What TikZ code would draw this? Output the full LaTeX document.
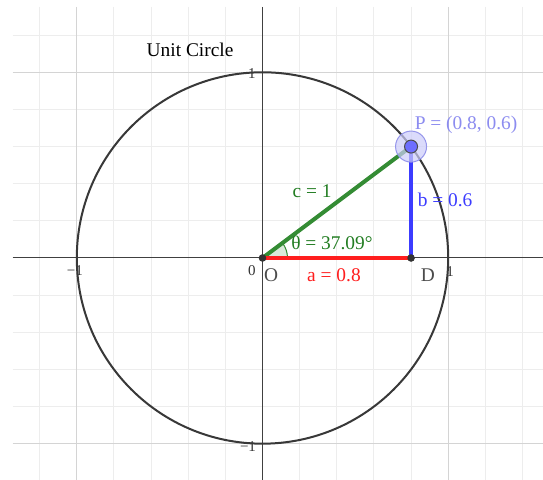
\documentclass[tikz,border=0pt]{standalone}
\usepackage{fontspec}
\setmainfont{Liberation Serif}
\definecolor{segg}{RGB}{52,140,52}
\definecolor{textg}{RGB}{34,125,34}
\definecolor{segr}{RGB}{255,30,30}
\definecolor{segb}{RGB}{60,60,255}
\definecolor{plab}{RGB}{140,140,240}
\definecolor{pfill}{RGB}{110,110,255}
\definecolor{halo}{RGB}{205,205,250}
\definecolor{halodraw}{RGB}{150,150,235}
\begin{document}
\begin{tikzpicture}[x=92.85pt,y=92.85pt,
  minorgrid/.style={draw=black!7, line width=0.5pt},
  majorgrid/.style={draw=black!17, line width=0.6pt},
  axisline/.style={draw=black!75, line width=0.5pt},
  circline/.style={draw=black!78, line width=1pt},
  ticklab/.style={font=\fontsize{7.5}{8}\selectfont, text=black!80, inner sep=0pt},
  lab/.style={font=\fontsize{9.7}{11}\selectfont, inner sep=0pt},
  dot/.style={circle, fill=black!80, inner sep=0pt, minimum size=3.8pt},
  pdot/.style={circle, fill=pfill, draw=black!70, line width=0.5pt, inner sep=0pt, minimum size=6.5pt},
  phalo/.style={circle, fill=halo, fill opacity=0.7, draw=halodraw, line width=0.5pt, inner sep=0pt, minimum size=15.5pt},
]
\useasboundingbox (-1.4136,-1.1955) rectangle (1.5105,1.3893);
\fill[white] (-1.4136,-1.1955) rectangle (1.5105,1.3893);
% grid
\foreach \x in {-1.2,-0.8,-0.6,-0.4,-0.2,0.2,0.4,0.6,0.8,1.2,1.4}
  \draw[minorgrid] (\x,1.352) -- (\x,-1.1955);
\foreach \y in {-0.8,-0.6,-0.4,-0.2,0.2,0.4,0.6,0.8,1.2}
  \draw[minorgrid] (-1.345,\y) -- (1.5105,\y);
\foreach \x in {-1,1}
  \draw[majorgrid] (\x,1.352) -- (\x,-1.1955);
\foreach \y in {-1,1}
  \draw[majorgrid] (-1.345,\y) -- (1.5105,\y);
% axes
\draw[axisline] (-1.345,0) -- (1.5105,0);
\draw[axisline] (0,1.352) -- (0,-1.1955);
% tick labels
\node[ticklab] (t0) at (-0.057,-0.070) {0};
\node[ticklab] (ty1) at (-0.057,0.991) {1};
\node[ticklab] (tym) at (-0.078,-1.018) {−1};
\node[ticklab] (txm) at (-1.010,-0.070) {−1};
\node[ticklab] (tx1) at (1.010,-0.075) {1};
% points
\coordinate (O) at (0,0);
\coordinate (P) at (0.8,0.6);
\coordinate (D) at (0.8,0);
% circle
\draw[circline] (O) circle (1);
% angle
\filldraw[fill=segg!18, draw=segg, line width=0.5pt] (O) -- (0.1346,0) arc (0:36.87:0.1346) -- cycle;
% segments
\draw[segg, line width=2pt] (O) -- (P);
\draw[segr, line width=1.6pt] (O) -- (D);
\draw[segb, line width=2pt] (D) -- (P);
% point markers
\node[dot] (o) at (O) {};
\node[dot] (d) at (D) {};
\node[phalo] (ph) at (P) {};
\node[pdot] (p) at (P) {};
% labels
\node[lab] (title) at (-0.390,1.120) {Unit Circle};
\node[lab, text=plab] (plabel) at (1.096,0.716) {P = (0.8, 0.6)};
\node[lab, text=textg] (theta) at (0.374,0.081) {θ = 37.09°};
\node[lab, text=textg] (clab) at (0.267,0.361) {c = 1};
\node[lab, text=segb] (blab) at (0.983,0.312) {b = 0.6};
\node[lab, text=segr] (alab) at (0.385,-0.092) {a = 0.8};
\node[lab, text=black!70] (olab) at (0.046,-0.092) {O};
\node[lab, text=black!70] (dlab) at (0.891,-0.092) {D};
\end{tikzpicture}
\end{document}
